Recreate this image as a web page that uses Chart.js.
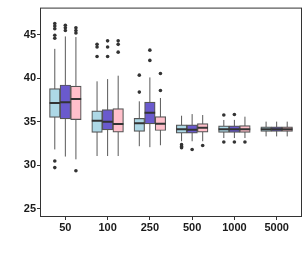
<!DOCTYPE html>
<html>
<head>
<meta charset="utf-8">
<title>Boxplots by sample size</title>
<script src="https://cdn.jsdelivr.net/npm/chart.js"></script>
<style>
  html, body { margin: 0; padding: 0; background: #fff; }
</style>
</head>
<body>
<canvas id="myChart" width="307" height="256"></canvas>
<script>
    // categories (sample sizes) and y tick values
    const sizes = ['50', '100', '250', '500', '1000', '5000'];
    const yTicks = [25, 30, 35, 40, 45];

    // light blue series: whisker ends, quartiles, medians, outliers
    const blueLow  = [31.80, 31.04, 32.17, 32.74, 33.11, 33.30];
    const blueQ1   = [35.49, 33.75, 33.87, 33.68, 33.75, 33.87];
    const blueMed  = [37.15, 35.11, 34.81, 34.13, 34.13, 34.13];
    const blueQ3   = [38.80, 36.25, 35.37, 34.63, 34.51, 34.40];
    const blueHigh = [43.38, 39.64, 37.34, 35.68, 35.19, 35.00];
    const blueOut  = [[46.3, 46.0, 45.7, 44.95, 44.6, 30.47, 29.71], [43.9, 43.6, 42.5], [40.35, 38.4], [32.35, 32.15, 32.0], [35.76, 32.66], []];

    // slate blue series
    const purpleLow  = [30.98, 31.04, 32.06, 32.74, 33.11, 33.30];
    const purpleQ1   = [35.31, 34.06, 34.74, 33.68, 33.75, 33.87];
    const purpleMed  = [37.22, 35.00, 36.02, 34.06, 34.13, 34.13];
    const purpleQ3   = [39.22, 36.39, 37.26, 34.63, 34.51, 34.40];
    const purpleHigh = [44.81, 39.90, 40.09, 35.87, 35.20, 35.00];
    const purpleOut  = [[46.1, 45.8, 45.5], [44.3, 43.6, 42.5], [43.23, 42.05], [31.8], [35.83, 32.66], []];

    // pink series
    const pinkLow  = [30.66, 31.04, 32.28, 32.74, 33.11, 33.30];
    const pinkQ1   = [35.23, 33.79, 33.98, 33.79, 33.75, 33.87];
    const pinkMed  = [37.60, 34.74, 34.77, 34.29, 34.13, 34.13];
    const pinkQ3   = [39.08, 36.51, 35.57, 34.77, 34.55, 34.40];
    const pinkHigh = [44.74, 40.29, 37.72, 35.76, 35.57, 35.00];
    const pinkOut  = [[45.8, 45.5, 45.2, 29.34], [44.3, 43.9, 43.0], [40.55, 38.59], [32.25], [32.66], []];

    const series = [
        { name: 'A', color: '#ADD8E6', low: blueLow, q1: blueQ1, med: blueMed, q3: blueQ3, high: blueHigh, out: blueOut },
        { name: 'B', color: '#6A5ACD', low: purpleLow, q1: purpleQ1, med: purpleMed, q3: purpleQ3, high: purpleHigh, out: purpleOut },
        { name: 'C', color: '#FFC0CB', low: pinkLow, q1: pinkQ1, med: pinkMed, q3: pinkQ3, high: pinkHigh, out: pinkOut }
    ];

    const xMin = -0.6, xMax = 5.6;
    const dodge = 0.75;                 // width of a whole group, in category units
    const boxW = dodge / series.length; // width of one box, in category units
    const tickFont = { family: 'Liberation Sans', size: 11, weight: 'bold' };

    // box width in pixels follows the x scale (panel is 262px wide)
    const panelWidth = 262;
    const boxPx = boxW * panelWidth / (xMax - xMin);

    // whiskers and medians are line segments, boxes are floating bars,
    // outliers are scatter points; all on the same linear x scale
    const datasets = [];
    series.forEach((s, g) => {
        const off = (g - 1) * boxW;
        datasets.push({
            type: 'line', label: s.name + ' whisker', order: 4,
            data: sizes.flatMap((_, i) => [
                { x: i + off, y: s.low[i] }, { x: i + off, y: s.high[i] }, { x: i + off, y: null }
            ]),
            borderColor: '#595959', borderWidth: 1, pointRadius: 0, spanGaps: false, fill: false
        });
        datasets.push({
            type: 'bar', label: s.name, order: 3,
            data: sizes.map((_, i) => ({ x: i, y: [s.q1[i], s.q3[i]] })),
            backgroundColor: s.color, borderColor: '#555', borderWidth: 1.2, borderSkipped: false,
            barThickness: boxPx
        });
        datasets.push({
            type: 'line', label: s.name + ' median', order: 2,
            data: sizes.flatMap((_, i) => [
                { x: i + off - boxW / 2, y: s.med[i] }, { x: i + off + boxW / 2, y: s.med[i] }, { x: i + off, y: null }
            ]),
            borderColor: '#333', borderWidth: 2, pointRadius: 0, spanGaps: false, fill: false
        });
        datasets.push({
            type: 'scatter', label: s.name + ' outliers', order: 1,
            data: s.out.flatMap((vals, i) => vals.map(v => ({ x: i + off, y: v }))),
            pointRadius: 1.8, backgroundColor: '#333', borderWidth: 0
        });
    });

    // panel border drawn on top, like the ggplot frame
    const panelBorder = {
        id: 'panelBorder',
        afterDraw(chart) {
            const { ctx, chartArea } = chart;
            ctx.save();
            ctx.strokeStyle = '#333';
            ctx.lineWidth = 1;
            ctx.strokeRect(chartArea.left + 0.5, chartArea.top + 0.5, chartArea.width - 1, chartArea.height - 1);
            ctx.restore();
        }
    };

    const ctx = document.getElementById('myChart').getContext('2d');
    const chart = new Chart(ctx, {
        type: 'bar',
        data: { datasets: datasets },
        options: {
            responsive: false,
            animation: false,
            layout: { padding: { top: 4, right: 5, left: 0, bottom: 0 } },
            plugins: { legend: { display: false }, tooltip: { enabled: false } },
            scales: {
                x: {
                    type: 'linear', min: xMin, max: xMax, offset: false,
                    afterBuildTicks: scale => { scale.ticks = sizes.map((_, i) => ({ value: i })); },
                    afterFit: scale => { scale.height = 39; },
                    grid: { display: true, offset: false, drawOnChartArea: false, drawTicks: true, tickLength: 3, color: '#333' },
                    border: { display: false },
                    ticks: {
                        autoSkip: false, maxRotation: 0, padding: 1,
                        color: '#1a1a1a', font: tickFont,
                        callback: value => sizes[value]
                    }
                },
                y: {
                    type: 'linear', min: 24.02, max: 48.13,
                    afterBuildTicks: scale => { scale.ticks = yTicks.map(v => ({ value: v })); },
                    afterFit: scale => { scale.width = 40; },
                    grid: { display: true, drawOnChartArea: false, drawTicks: true, tickLength: 3, color: '#333' },
                    border: { display: false },
                    ticks: { padding: 1, color: '#1a1a1a', font: tickFont }
                }
            }
        },
        plugins: [panelBorder]
    });
</script>
</body>
</html>
